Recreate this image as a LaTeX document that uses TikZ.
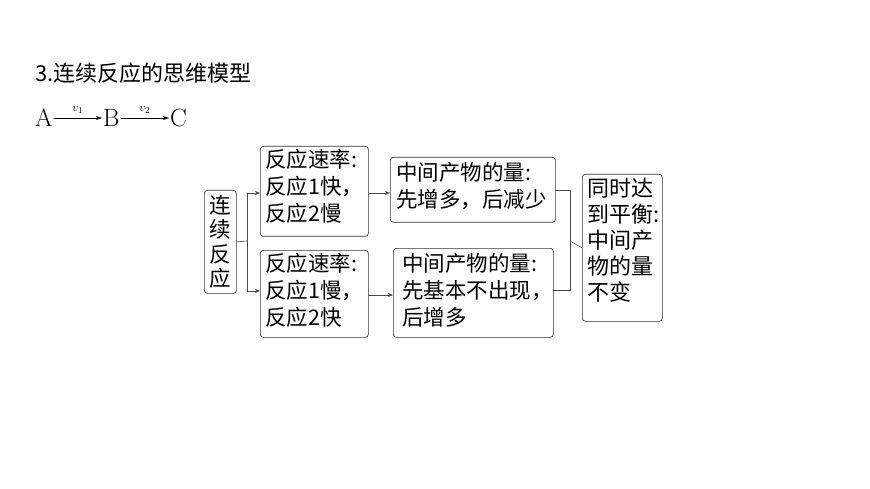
\documentclass[tikz,border=0pt]{standalone}
\usepackage{fontspec}
\newfontfamily\cjk{Noto Sans CJK SC}
\usetikzlibrary{arrows.meta,calc}
\begin{document}
\begin{tikzpicture}[x=1pt,y=-1pt,
  bx/.style={draw=black!80,rounded corners=3pt,line width=0.7pt},
  tx/.style={anchor=north west,align=left,font=\cjk\fontsize{21.5}{27}\selectfont,inner sep=0pt},
  ln/.style={draw=black!70,line width=0.6pt},
  ar/.style={ln,-{Stealth[length=5pt,width=4pt]}}]
\useasboundingbox (0,0) rectangle (870,489);
\node[anchor=west,font=\cjk\fontsize{22}{24}\selectfont,inner sep=0pt] (title) at (35,73) {3.连续反应的思维模型};
\node[anchor=west,font=\fontsize{25}{28}\selectfont,inner sep=0pt] (A) at (35,118) {A};
\node[anchor=west,font=\fontsize{25}{28}\selectfont,inner sep=0pt] (B) at (103,118) {B};
\node[anchor=west,font=\fontsize{25}{28}\selectfont,inner sep=0pt] (C) at (170,118) {C};
\draw[-{Stealth[length=6pt,width=4pt]},line width=0.7pt] ($(A.east)+(1,0)$) -- node[above=1pt,font=\fontsize{13}{14}\selectfont]{$v_1$} ($(B.west)+(-1,0)$);
\draw[-{Stealth[length=6pt,width=4pt]},line width=0.7pt] ($(B.east)+(1,0)$) -- node[above=1pt,font=\fontsize{13}{14}\selectfont]{$v_2$} ($(C.west)+(-1,0)$);
% boxes
\node[bx,minimum width=32,minimum height=103,anchor=north west] (s) at (204,190) {};
\node[font=\cjk\fontsize{21.5}{24.5}\selectfont,align=center,inner sep=0pt] at (s.center) {连\\续\\反\\应};
\node[bx,minimum width=108,minimum height=90,anchor=north west] (l1) at (260,146) {};
\node[tx] at (265,149) {反应速率:\\反应1快，\\反应2慢};
\node[bx,minimum width=108,minimum height=87,anchor=north west] (l2) at (260,250) {};
\node[tx] at (265,253) {反应速率:\\反应1慢，\\反应2快};
\node[bx,minimum width=165,minimum height=65,anchor=north west] (m1) at (390,157) {};
\node[tx] at (396,162) {中间产物的量:\\先增多，后减少};
\node[bx,minimum width=160,minimum height=89,anchor=north west] (m2) at (393,248) {};
\node[tx] at (402,253) {中间产物的量:\\先基本不出现，\\后增多};
\node[bx,minimum width=80,minimum height=147,anchor=north west] (r) at (582,174) {};
\node[tx,font=\cjk\fontsize{22}{26}\selectfont] at (587,178) {同时达\\到平衡:\\中间产\\物的量\\不变};
% connectors
\coordinate (j) at (247,241);
\draw[ln] (s.east) -- (j);
\draw[ar] (j) |- (260,193);
\draw[ar] (j) |- (260,291);
\draw[ar] (368,193) -- (390,193);
\draw[ar] (368,295) -- (393,295);
\draw[ln] (555,190) -| (570,290) -- (553,290);
\draw[ln] (570,241) -- (r.west);
\end{tikzpicture}
\end{document}
